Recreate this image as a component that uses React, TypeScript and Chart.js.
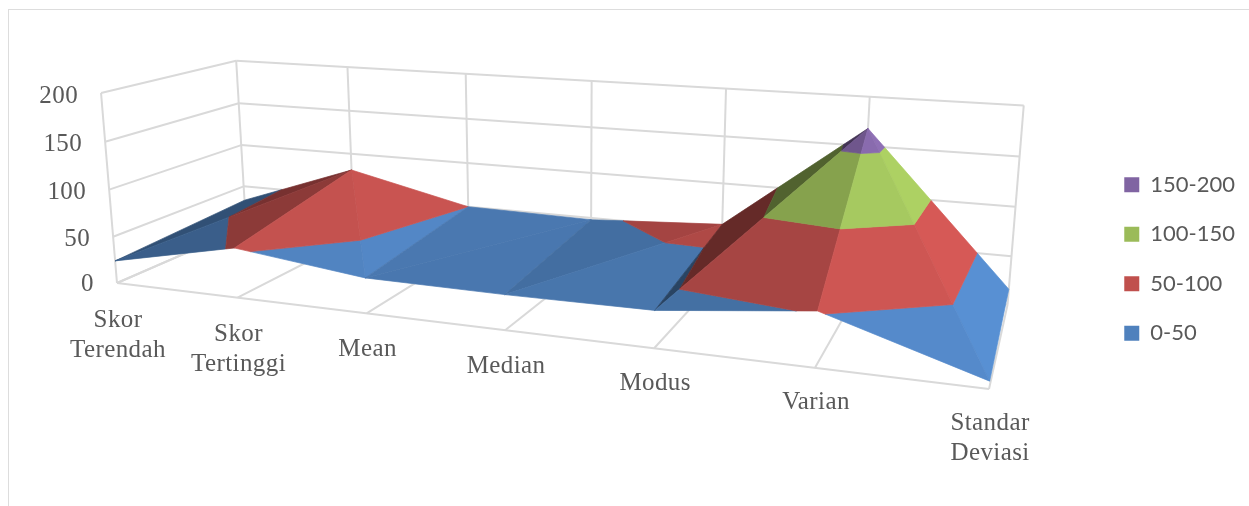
import React, { useEffect, useRef } from "react";
import { Chart, registerables } from "chart.js";

Chart.register(...registerables);

// ---- data ----
const categories = ["Skor Terendah", "Skor Tertinggi", "Mean", "Median", "Modus", "Varian", "Standar Deviasi"];
const frontSeries = [24, 52, 36, 35, 36, 52, 7];
const backSeries = [33, 81, 50, 48, 56, 168, 16];
const valueTicks = [0, 50, 100, 150, 200];
const bandNames = ["0-50", "50-100", "100-150", "150-200"];
const bandColors = ["#4F81BD", "#C0504D", "#9BBB59", "#8064A2"];
// how each surface cell between two categories is split: true = front-left to back-right
const cellSplits = [true, false, true, true, true, false];

type P3 = { u: number; v: number; z: number };

// 3D camera of the chart: (category index, depth 0..1, value) -> chart coordinates
function project(p: P3) {
  const zn = p.z / 200;
  const w = 1 - 0.033 * p.u + 0.15 * p.v - 0.034 * zn;
  return {
    x: (117 + 112.7 * p.u + 166 * p.v - 19.4 * zn) / w,
    y: (283 + 4.83 * p.u - 22 * p.v - 193.2 * zn) / w,
  };
}

function clipBand(poly: P3[], lo: number, hi: number): P3[] {
  const clip = (pts: P3[], keep: (z: number) => boolean, limit: number) => {
    const out: P3[] = [];
    pts.forEach((a, i) => {
      const b = pts[(i + 1) % pts.length];
      if (keep(a.z)) out.push(a);
      if (keep(a.z) !== keep(b.z)) {
        const t = (limit - a.z) / (b.z - a.z);
        out.push({ u: a.u + (b.u - a.u) * t, v: a.v + (b.v - a.v) * t, z: limit });
      }
    });
    return out;
  };
  return clip(clip(poly, (z) => z >= lo, lo), (z) => z <= hi, hi);
}

function shadeFactor([a, b, c]: P3[]) {
  const e1 = [b.u - a.u, b.v - a.v, (b.z - a.z) / 50];
  const e2 = [c.u - a.u, c.v - a.v, (c.z - a.z) / 50];
  let nx = e1[1] * e2[2] - e1[2] * e2[1];
  const ny = e1[2] * e2[0] - e1[0] * e2[2];
  let nz = e1[0] * e2[1] - e1[1] * e2[0];
  if (nz < 0) { nx = -nx; nz = -nz; }
  const len = Math.hypot(nx, ny, nz);
  const r = nx / len;
  const facing = Math.abs(ny) / len;
  return r < 0 ? 0.92 + 0.44 * r : 0.92 + 0.2 * r + 0.1 * facing * Math.min(1, 4 * r);
}

function shade(hex: string, f: number) {
  const n = parseInt(hex.slice(1), 16);
  const ch = (s: number) => Math.max(0, Math.min(255, Math.round(((n >> s) & 255) * f)));
  return `rgb(${ch(16)},${ch(8)},${ch(0)})`;
}

function surfaceDatasets() {
  const sets: any[] = [];
  const front = (u: number): P3 => ({ u, v: 0, z: frontSeries[u] });
  const back = (u: number): P3 => ({ u, v: 1, z: backSeries[u] });
  cellSplits.forEach((split, u) => {
    const tris: P3[][] = split
      ? [[front(u), back(u), back(u + 1)], [front(u), front(u + 1), back(u + 1)]]
      : [[back(u), back(u + 1), front(u + 1)], [front(u), front(u + 1), back(u)]];
    tris.forEach((tri) => {
      const f = shadeFactor(tri);
      bandColors.forEach((color, i) => {
        const poly = clipBand(tri, i * 50, (i + 1) * 50);
        if (poly.length < 3) return;
        const pts = poly.map(project);
        const col = shade(color, f);
        sets.push({
          data: [...pts, pts[0]],
          showLine: true,
          fill: "shape",
          backgroundColor: col,
          borderColor: col,
          borderWidth: 0.7,
          pointRadius: 0,
          tension: 0,
        });
      });
    });
  });
  return sets.map((s, i) => ({ ...s, order: -i }));
}

function gridDatasets() {
  const segs: P3[][] = [];
  const lastU = categories.length - 1;
  valueTicks.forEach((z) => {
    segs.push([{ u: 0, v: 1, z }, { u: lastU, v: 1, z }]);
    segs.push([{ u: 0, v: 0, z }, { u: 0, v: 1, z }]);
  });
  categories.forEach((_, u) => {
    segs.push([{ u, v: 1, z: 0 }, { u, v: 1, z: 200 }]);
    segs.push([{ u, v: 0, z: 0 }, { u, v: 1, z: 0 }]);
  });
  segs.push([{ u: 0, v: 0, z: 0 }, { u: 0, v: 0, z: 200 }]);
  segs.push([{ u: 0, v: 0, z: 0 }, { u: lastU, v: 0, z: 0 }]);
  return segs.map((s) => ({
    data: s.map(project),
    showLine: true,
    fill: false,
    borderColor: "#D9D9D9",
    borderWidth: 2,
    pointRadius: 0,
    order: 100,
  }));
}

const axisText = {
  id: "axisText",
  afterDatasetsDraw(chart: any) {
    const { ctx, scales } = chart;
    const at = (p: P3) => {
      const q = project(p);
      return { x: scales.x.getPixelForValue(q.x), y: scales.y.getPixelForValue(q.y) };
    };
    ctx.save();
    ctx.font = '25px "Liberation Serif"';
    ctx.letterSpacing = "0.4px";
    ctx.fillStyle = "#595959";
    ctx.textBaseline = "middle";
    ctx.textAlign = "right";
    valueTicks.forEach((z) => {
      const p = at({ u: 0, v: 0, z });
      ctx.fillText(String(z), p.x - 23, p.y + (z === 0 ? 1 : 3));
    });
    ctx.textAlign = "center";
    categories.forEach((name, u) => {
      const p = at({ u, v: 0, z: 0 });
      name.split(" ").forEach((line, i) => {
        ctx.fillText(line, p.x + 1, p.y + 37.5 - 0.5 * u + i * 30);
      });
    });
    ctx.restore();
  },
};

export default function App() {
  const ref = useRef<HTMLCanvasElement>(null);
  useEffect(() => {
    document.body.style.margin = "0";
    const legendSets = [...bandNames].reverse().map((label, i) => ({
      label,
      data: [],
      backgroundColor: [...bandColors].reverse()[i],
      borderWidth: 0,
      order: i,
    }));
    const chart = new Chart(ref.current as HTMLCanvasElement, {
      type: "scatter",
      data: { datasets: [...legendSets, ...surfaceDatasets(), ...gridDatasets()] as any },
      options: {
        animation: false,
        responsive: false,
        layout: { padding: { top: 12, right: 4 } },
        scales: {
          x: {
            type: "linear",
            min: 0,
            max: 1100,
            display: false,
            // one chart unit stays one pixel, whatever width the legend leaves
            afterBuildTicks: (s: any) => {
              s.min = 0;
              s.max = s.width;
            },
          },
          y: { type: "linear", min: 12, max: 506, reverse: true, display: false },
        },
        plugins: {
          tooltip: { enabled: false },
          legend: {
            position: "right",
            labels: {
              boxWidth: 15,
              boxHeight: 15,
              padding: 27.5,
              color: "#595959",
              font: { family: "Lato", size: 22 },
              filter: (item: any) => !!item.text,
            },
          },
        },
      } as any,
      plugins: [axisText],
    });
    return () => chart.destroy();
  }, []);
  return (
    <div style={{ position: "absolute", left: 0, top: 0, width: 1249, height: 506, overflow: "hidden", background: "#fff" }}>
      <div style={{ position: "absolute", left: 8, top: 9, width: 1300, height: 600, border: "1.5px solid #DDDDDD" }} />
      <canvas ref={ref} width={1249} height={506} style={{ position: "absolute", left: 0, top: 0, filter: "blur(0.4px)" }} />
    </div>
  );
}
